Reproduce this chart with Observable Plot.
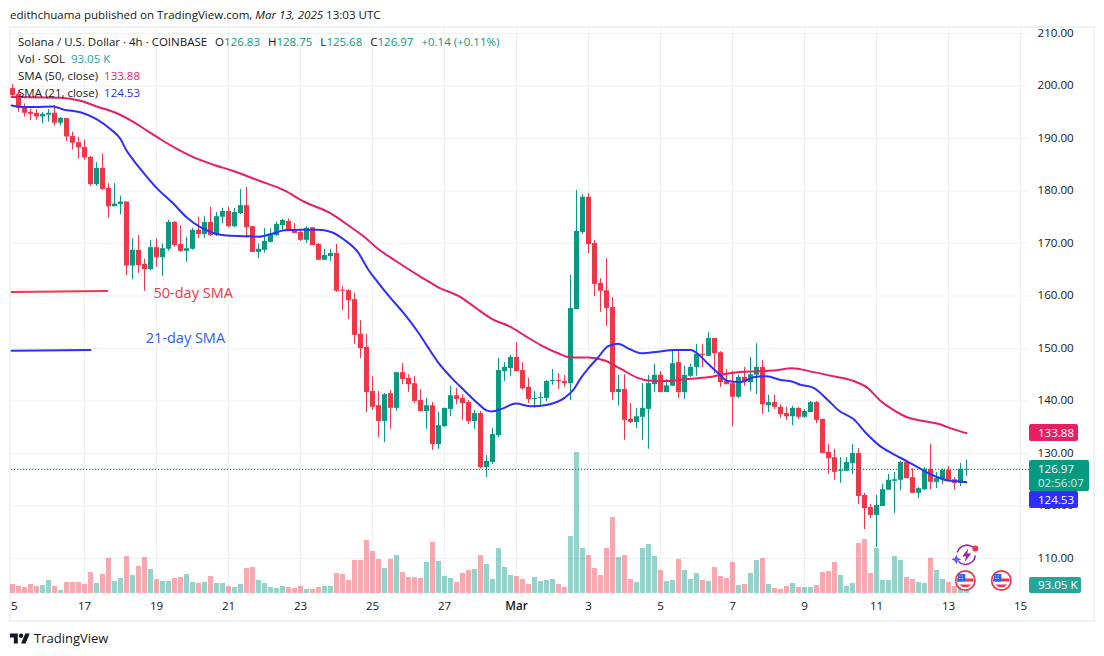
<!DOCTYPE html>
<html>
<head>
<meta charset="utf-8">
<script src="https://cdn.jsdelivr.net/npm/d3@7"></script>
<script src="https://cdn.jsdelivr.net/npm/@observablehq/plot@0.6"></script>
<style>
  html, body { margin: 0; padding: 0; background: #fff; }
  #page { position: relative; width: 1104px; height: 656px; overflow: hidden;
          font-family: "Open Sans", sans-serif; color: #131722; }
  #head { position: absolute; left: 10px; top: 7px; font-size: 11.55px; line-height: 16px; white-space: nowrap; }
  #frame { position: absolute; left: 9px; top: 26px; width: 1082px; height: 592px; border: 2px solid #f1f2f5; }
  #chart { position: absolute; left: 0; top: 16px; }
  #legend { position: absolute; left: 18px; top: 33px; font-size: 11.5px; line-height: 17px; white-space: nowrap; }
  #legend div { height: 17px; }
  #legend .g { color: #089981; } #legend .v { color: #26a69a; margin-left: 6px; }
  #legend .p { color: #e91e63; margin-left: 6px; } #legend .b { color: #2e2eff; margin-left: 6px; }
  #legend .s { margin-left: 8px; }
  #foot { position: absolute; left: 10px; top: 631px; height: 14px; display: flex; align-items: center; gap: 4px; font-size: 13px; }
</style>
</head>
<body>
<div id="page">
  <div id="head">edithchuama published on TradingView.com, <i>Mar 13, 2025</i> 13:03 UTC</div>
  <div id="frame"></div>
  <div id="chart"></div>
  <div id="legend">
    <div>Solana / U.S. Dollar · 4h · COINBASE<span class="s">O</span><span class="g">126.83</span><span class="s">H</span><span class="g">128.75</span><span class="s">L</span><span class="g">125.68</span><span class="s">C</span><span class="g">126.97</span><span class="s g">+0.14 (+0.11%)</span></div>
    <div>Vol · SOL<span class="v">93.05 K</span></div>
    <div>SMA (50, close)<span class="p">133.88</span></div>
    <div>SMA (21, close)<span class="b">124.53</span></div>
  </div>
  <div id="foot">
    <svg width="20" height="11" viewBox="0 0 36 18"><path fill="#131722" d="M14 18H7V7H0V0h14v18zM28 18h-8l7.5-18h8L28 18z"/><circle fill="#131722" cx="20" cy="4" r="4"/></svg>
    <span>TradingView</span>
  </div>
</div>
<script>
const opens = [
199.5,198.4,196.0,195.0,194.8,194.1,194.45,194.8,192.9,193.8,
190.4,189.2,188.3,186.4,181.2,184.3,180.5,177.0,177.4,177.9,
165.7,168.7,166.0,165.0,169.2,167.3,168.9,174.0,169.8,168.5,
168.9,172.5,171.7,174.0,171.5,175.0,176.1,173.2,175.7,177.2,
173.2,168.3,168.7,170.2,171.5,173.4,174.2,172.6,172.1,170.6,
173.0,169.8,166.8,167.5,168.1,161.1,161.0,159.3,152.7,150.2,
141.8,139.1,136.1,141.4,138.6,145.4,144.3,143.3,140.1,138.0,
139.1,131.7,135.1,138.4,141.0,140.5,139.7,136.1,137.6,127.3,
128.3,133.4,145.6,146.2,148.3,145.8,142.6,140.3,140.5,140.5,
143.7,143.9,143.7,143.3,157.4,172.1,178.8,170.0,162.4,161.0,
157.8,141.6,142.2,136.5,135.9,136.9,138.4,143.1,144.9,141.6,
142.8,147.3,141.6,144.7,146.4,148.9,148.5,151.9,149.2,143.7,
143.3,140.7,144.5,143.5,144.9,146.4,139.1,139.7,138.8,137.6,
137.0,138.6,136.9,137.8,139.7,136.5,130.2,129.2,126.6,126.6,
128.1,130.0,122.0,119.7,118.2,119.9,123.0,124.7,124.9,128.3,
125.4,122.4,123.1,127.0,124.5,125.0,126.8,125.0,124.3,126.83];
const closes = [
198.2,195.8,194.8,194.6,194.1,194.6,194.8,192.9,193.8,190.3,
189.1,188.2,186.3,181.2,184.3,180.3,177.0,177.5,177.9,165.7,
168.7,165.8,165.0,169.2,167.3,169.0,174.0,169.6,168.5,169.0,
172.5,171.7,174.0,171.5,175.1,176.1,173.2,175.9,177.2,173.0,
168.3,168.9,170.4,171.7,173.6,174.4,172.5,171.9,170.6,172.9,
169.6,166.8,167.7,168.1,160.9,160.9,159.1,152.5,150.0,141.6,
138.8,136.1,141.2,138.6,145.4,144.1,143.1,139.9,138.0,139.1,
131.7,135.3,138.6,141.0,140.3,139.5,136.1,137.6,127.3,128.5,
133.6,145.8,146.4,148.3,145.6,142.3,140.3,140.5,140.7,143.7,
143.9,143.7,143.3,157.6,172.3,178.8,169.8,162.2,160.9,157.6,
141.6,142.2,136.3,135.9,137.0,138.6,143.3,144.9,141.6,142.9,
147.1,141.6,144.9,146.4,148.9,148.7,151.9,149.0,143.5,143.1,
140.7,144.5,143.5,145.0,146.4,139.3,139.7,138.8,137.4,137.0,
138.6,136.9,138.0,139.7,136.3,130.0,129.0,126.4,126.8,128.3,
130.0,121.8,119.5,118.2,120.1,123.1,124.9,125.0,128.3,125.2,
122.4,123.3,127.0,124.5,125.2,126.8,124.9,124.3,127.0,126.97];
const highs = [
200.3,199.1,196.6,195.6,195.5,195.0,195.5,196.3,194.0,193.8,
191.2,190.2,189.7,186.6,185.4,187.0,181.4,181.4,179.0,177.9,
170.9,171.5,167.0,170.6,170.9,169.9,174.4,174.2,173.4,171.2,
172.9,175.0,175.1,176.9,175.9,176.7,176.9,176.7,180.3,180.7,
173.2,169.9,172.9,172.8,174.1,174.6,174.7,173.8,172.3,173.2,
173.0,170.0,168.9,168.9,169.8,161.8,161.2,160.5,155.3,152.7,
144.7,141.8,141.4,142.0,145.4,147.1,145.0,144.7,142.2,140.5,
139.7,137.8,138.6,142.8,142.4,141.2,140.1,138.2,138.0,129.6,
134.8,148.1,147.3,148.7,151.1,147.3,144.3,141.8,141.6,143.9,
146.0,145.2,144.9,163.9,180.1,179.3,179.5,170.6,163.3,167.1,
159.7,144.9,145.0,139.5,138.6,143.3,144.9,147.0,145.6,144.1,
149.8,149.4,146.6,147.0,150.8,150.8,153.0,151.9,149.4,146.0,
145.6,144.9,146.4,148.3,150.9,147.7,141.1,141.1,139.3,138.8,
139.0,138.8,138.4,139.9,139.9,136.5,131.7,130.8,129.2,129.2,
131.7,130.9,122.4,120.3,122.0,124.1,126.0,126.4,128.5,128.5,
127.1,123.5,127.3,131.7,126.4,127.0,127.5,125.4,128.1,128.75];
const lows = [
197.9,195.0,194.1,193.4,193.4,192.8,193.1,192.4,192.4,189.4,
187.8,186.1,185.8,180.9,180.9,180.1,174.8,177.0,175.5,163.9,
163.1,164.3,160.9,164.8,165.5,163.7,168.5,169.3,168.3,166.4,
168.7,171.0,171.0,171.3,171.3,173.8,173.0,173.0,175.5,171.0,
168.3,167.1,168.2,170.1,171.3,172.6,172.3,171.9,170.4,170.0,
169.6,166.8,166.8,166.6,160.7,157.2,155.5,150.8,148.1,137.8,
138.2,133.0,132.1,134.6,138.0,143.1,141.6,139.5,138.0,134.6,
130.6,130.8,135.0,137.0,139.3,136.3,135.5,134.6,127.1,125.4,
127.9,133.0,143.7,144.7,145.6,142.1,139.5,138.6,139.0,139.9,
143.0,142.2,142.6,140.1,157.4,171.7,168.1,159.9,156.9,154.2,
140.1,139.1,132.5,135.7,134.8,132.5,130.8,141.6,141.6,141.6,
142.8,140.5,140.3,144.5,144.7,146.4,148.5,145.2,142.6,143.1,
135.1,140.5,142.8,141.8,141.2,137.4,137.8,138.4,136.7,136.3,
135.3,136.5,136.7,137.8,135.7,130.0,126.0,124.9,124.3,126.6,
126.0,120.3,115.5,117.6,112.1,119.9,123.0,118.6,122.9,125.2,
122.4,121.4,122.9,123.1,123.3,124.1,124.7,123.1,123.7,125.68];
const volumes = [
140,109,93,140,109,124,202,109,47,171,
171,171,140,326,155,295,543,186,233,574,
279,419,558,372,217,186,186,233,248,295,
171,155,171,264,155,155,109,93,140,388,
403,202,155,93,78,109,93,78,109,62,
62,93,109,109,310,295,202,512,512,822,
651,527,388,527,589,326,248,248,233,481,
791,496,264,233,171,310,357,372,589,450,
217,698,403,279,264,217,140,248,186,202,
217,140,93,884,2186,698,589,388,279,698,
1178,558,589,217,171,698,760,574,357,186,
202,527,357,217,310,202,186,403,264,233,
481,124,140,310,512,543,140,78,62,109,
155,93,93,93,124,326,341,481,279,109,
155,775,837,310,698,202,202,574,512,248,
217,171,155,543,357,217,171,109,186,93.05];

const sma21Bars = [-0.15,1.8,3.8,6.8,8.5,11.3,14,16.3,18,19,20.2,21.3,24,26.8,29,31.3,33.5,35.7,38.5,41,43.1,45.3,48.1,50.9,53.1,55.3,57.6,59.2,60.9,63.1,65.3,67.6,69.2,70.9,73.1,75.3,77.6,79,79.9,81.5,83.9,86.4,89.2,92,93.4,94.8,95.9,97.6,99.2,100.9,102.8,104.8,107.6,110.3,113.1,114.2,115.9,117.6,119.2,121.3,123.5,125.7,128,129.9,131.3,133.5,135.7,137.7,140.2,142.4,144.6,146.8,149.1,151.3,153.5,155.7,157.4,159];
const sma21Values = [196.3,196,196,196.1,195.5,195,193.7,191.8,189.9,187.7,185.8,184.2,180.6,177.6,175,173.1,172,171.5,171.4,171.3,171.8,172.5,172.6,172.6,172.2,170.7,168.3,165.2,162.6,159.5,156.6,153.1,150.3,147.4,144.5,142,139.5,138.2,138,138.5,139.5,139,139.3,140.6,142,144.5,146.1,148.3,150.4,150.9,149.9,149.1,149.4,149.7,149.7,149,147.1,145.3,143.8,143.6,144.5,144.7,144,143.7,143.1,142.5,140.4,138.2,136.5,133.7,131.4,129.9,128.5,127.1,125.8,124.9,124.7,124.53];
const sma50Bars = [-0.15,8,11.3,14,17.4,20.2,22.4,24.6,27.4,30.2,33.5,36.8,41,45.3,48.7,53.1,56.4,58.7,60.9,63.7,68.1,70.9,74.8,77,79.8,83,85.3,88.1,90.9,93.1,95.9,98.7,101.4,104.2,105.9,109.2,112.6,115.9,118.1,121.3,126.9,129.9,133.5,136.8,140.2,142.4,144.6,146.8,149.1,151.3,154.1,156.9,159];
const sma50Values = [197.9,197.75,197.2,196.1,194.8,193.1,191.5,189.9,188,186.4,185,183.8,182,180.1,177.9,175.7,173.1,171.2,169,166.8,163.6,161.7,159.7,157.9,155.7,154.1,152.5,150.6,149.1,148.3,148.3,147.7,146.1,144.4,143.9,143.8,144.2,144.5,145,145.5,145.8,146.25,145.5,144.7,143.8,142.6,140.1,138.3,136.9,136.3,135.7,134.6,133.88];

const priceTicks = [110,120,130,140,150,160,170,180,190,200,210];
const dayTickBars = [12,24,36,48,60,72,96,108,120,132,144,156,168];
const dayTickLabels = ["17","19","21","23","25","27","3","5","7","9","11","13","15"];
const monthTickBar = 84, monthTickLabel = "Mar";
const clippedTickBar = 0.3, clippedTickLabel = "5";

const lastClose = 126.97, lastSma50 = 133.88, lastSma21 = 124.53, lastVolume = "93.05 K", countdown = "02:56:07";

const RED = "#f23645", GREEN = "#089981", PINK = "#e91e63", BLUE = "#2e2eff";
const candles = opens.map((o, i) => ({i, o, c: closes[i], h: highs[i], l: lows[i], v: volumes[i], col: closes[i] >= o ? GREEN : RED}));
const zip = (xs, ys) => xs.map((x, k) => ({x, y: ys[k]}));
const volBase = 103.33;
const volToPrice = d3.scaleLinear().domain([0, 15.5]).range([volBase, volBase + 1 / 5.25]);

const svgUri = s => "data:image/svg+xml," + encodeURIComponent(s);
const flag = svgUri(`<svg xmlns="http://www.w3.org/2000/svg" viewBox="0 0 22 22"><circle cx="11" cy="11" r="9.7" fill="#fff" stroke="#f23645" stroke-width="1.7"/><path d="M3 9h16v3H3z" fill="#f23645"/><path d="M5 15h12a8 8 0 0 1-12 0z" fill="#f23645"/><path d="M4 4.5h7V12H3z" fill="#2962ff"/><path d="M5 6.5h1M7.5 6.5h1M5 9h1M7.5 9h1" stroke="#fff"/></svg>`);
const bolt = svgUri(`<svg xmlns="http://www.w3.org/2000/svg" viewBox="0 0 28 24"><path d="M6 9a10 10 0 0 1 16-5M24 12a10 10 0 0 1-17 6" fill="none" stroke="#9c27b0" stroke-width="1.6"/><path d="M17 5l-6 8h4l-2 6 7-9h-4z" fill="#9c27b0"/><path d="M5 11l1.3 3.2L10 16l-3.7 1.5L5 21l-1.3-3.5L0 16l3.7-1.8z" fill="#5b5bff"/><circle cx="24" cy="5" r="3" fill="#f23645"/></svg>`);

const tag = (v1, v2, xEnd, fill) => Plot.rect([0], {x1: () => 169.5, x2: () => xEnd, y1: () => v1, y2: () => v2, fill, rx: 2});
const label = (text, y, fill, opts = {}) => Plot.text([text], {x: () => 170.9, y: () => y, text: d => d, fill, textAnchor: "start", ...opts});

const plot = Plot.plot({
  width: 1104, height: 604,
  marginLeft: 11, marginRight: 75, marginTop: 11, marginBottom: 27,
  x: {domain: [-1 / 6, 169.5]},
  y: {domain: [volBase, 211.14]},
  style: {background: "transparent", fontFamily: '"Open Sans", sans-serif', fontSize: "11.6px"},
  marks: [
    Plot.ruleY(priceTicks, {stroke: "#f0f1f4"}),
    Plot.ruleX(dayTickBars.concat(monthTickBar), {stroke: "#f0f1f4"}),
    Plot.ruleX(candles, {x: "i", y1: volBase, y2: d => volToPrice(d.v), stroke: "col", strokeWidth: 5, strokeOpacity: 0.43}),
    Plot.ruleX(candles, {x: "i", y1: "l", y2: "h", stroke: "col"}),
    Plot.ruleX(candles, {x: "i", y1: "o", y2: "c", stroke: "col", strokeWidth: 5}),
    Plot.line(zip(sma50Bars, sma50Values), {x: "x", y: "y", stroke: PINK, strokeWidth: 2, curve: "monotone-x"}),
    Plot.line(zip(sma21Bars, sma21Values), {x: "x", y: "y", stroke: BLUE, strokeWidth: 2, curve: "monotone-x"}),
    Plot.ruleY([lastClose], {stroke: GREEN, strokeWidth: 1.3, strokeDasharray: "1.3 1.7"}),
    Plot.line(zip([-0.15, 15.8], [160.75, 160.95]), {x: "x", y: "y", stroke: RED, strokeWidth: 2}),
    Plot.line(zip([-0.15, 13], [149.55, 149.7]), {x: "x", y: "y", stroke: BLUE, strokeWidth: 2}),
    Plot.text(["50-day SMA"], {x: () => 23.5, y: () => 160.48, text: d => d, fill: RED, textAnchor: "start", fontSize: 14.5}),
    Plot.text(["21-day SMA"], {x: () => 22.2, y: () => 151.9, text: d => d, fill: "#2962ff", textAnchor: "start", fontSize: 14.5}),
    Plot.axisY({ticks: priceTicks, anchor: "right", tickSize: 0, tickPadding: 8, tickFormat: d3.format(".2f"), label: null, color: "#131722", dy: -0.5}),
    Plot.axisX({ticks: dayTickBars, tickFormat: d => dayTickLabels[dayTickBars.indexOf(d)], tickSize: 0, tickPadding: 8, label: null, color: "#131722"}),
    Plot.axisX({ticks: [monthTickBar], tickFormat: () => monthTickLabel, tickSize: 0, tickPadding: 8, label: null, color: "#131722", fontWeight: 600}),
    Plot.axisX({ticks: [clippedTickBar], tickFormat: () => clippedTickLabel, tickSize: 0, tickPadding: 8, label: null, color: "#131722"}),
    tag(135.52, 132.29, 177.67, PINK),
    tag(128.67, 122.76, 179.5, GREEN),
    tag(122.76, 119.52, 177.67, BLUE),
    tag(106.38, volBase, 178.17, "#26a69a"),
    label(d3.format(".2f")(lastSma50), lastSma50, "#fff"),
    label(d3.format(".2f")(lastClose), lastClose + 0.1, "#fff"),
    label(countdown, 124.4, "#d4ece8"),
    label(d3.format(".2f")(lastSma21), 121.14, "#fff"),
    label(lastVolume, 104.86, "#fff"),
    Plot.image([0], {x: () => 158.8, y: () => 105.81, src: () => flag, width: 22, height: 22}),
    Plot.image([0], {x: () => 164.8, y: () => 105.81, src: () => flag, width: 22, height: 22}),
    Plot.image([0], {x: () => 158.8, y: () => 110.57, src: () => bolt, width: 28, height: 24})
  ]
});
document.getElementById("chart").append(plot);
</script>
</body>
</html>
